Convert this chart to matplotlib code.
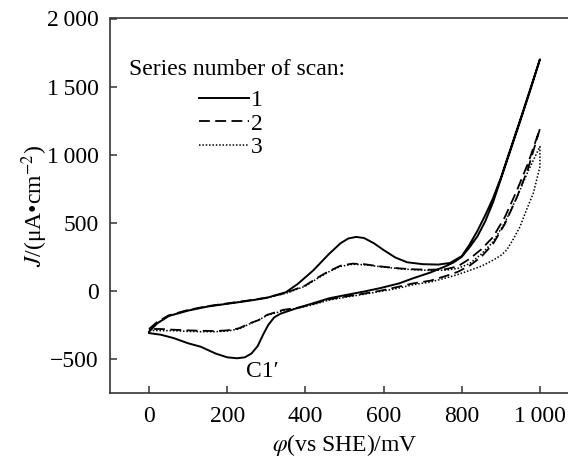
import numpy as np
import matplotlib
matplotlib.use('Agg')
import matplotlib.pyplot as plt

plt.rcParams['font.family'] = ['Liberation Serif', 'DejaVu Serif']
plt.rcParams['mathtext.fontset'] = 'stix'

# scan 1 (solid): forward (anodic) then reverse
x1f = [0, 20, 50, 100, 150, 200, 250, 300, 350, 380, 420, 460, 490, 510, 530, 550, 575, 600,
       630, 660, 700, 740, 770, 800, 820, 840, 860, 880, 900, 925, 950, 975, 1000]
y1f = [-300, -240, -185, -145, -115, -95, -75, -52, -10, 50, 150, 270, 350, 385, 396, 388, 350, 300,
       245, 210, 196, 193, 205, 255, 340, 440, 555, 680, 830, 1045, 1260, 1480, 1700]
x1r = [1000, 975, 950, 925, 900, 880, 860, 840, 820, 800, 780, 762, 720, 676, 640, 591, 550, 506,
       460, 421, 380, 336, 320, 305, 292, 278, 262, 245, 225, 200, 170, 132, 100, 63, 30, 0]
y1r = [1700, 1470, 1250, 1035, 820, 650, 510, 400, 320, 250, 210, 185, 135, 93, 55, 20, -5, -29,
       -55, -90, -125, -168, -195, -250, -320, -405, -460, -488, -495, -488, -460, -410, -385, -347, -322, -310]

# scan 2 (dashed)
x2f = [0, 20, 50, 100, 150, 200, 250, 300, 350, 400, 430, 460, 490, 520, 550, 590, 640, 680,
       720, 760, 790, 820, 850, 880, 910, 940, 970, 1000]
y2f = [-280, -230, -180, -140, -112, -92, -72, -50, -15, 40, 95, 145, 185, 200, 196, 180, 165, 158,
       155, 160, 180, 235, 305, 395, 540, 730, 940, 1190]
x2r = [1000, 970, 940, 910, 880, 850, 820, 790, 760, 720, 676, 630, 590, 550, 506, 460, 421, 380,
       344, 302, 280, 259, 230, 200, 170, 132, 100, 60, 30, 0]
y2r = [1190, 900, 680, 490, 345, 250, 185, 140, 110, 75, 55, 25, 0, -20, -40, -62, -95, -125,
       -139, -176, -215, -237, -275, -290, -295, -293, -290, -285, -280, -280]

# scan 3 (dotted)
x3f = [0, 20, 50, 100, 150, 200, 250, 300, 350, 400, 430, 460, 490, 520, 550, 590, 640, 680,
       720, 760, 790, 820, 850, 880, 910, 940, 970, 1000]
y3f = [-290, -240, -185, -142, -114, -94, -74, -52, -18, 35, 90, 140, 180, 195, 192, 178, 163, 155,
       150, 152, 165, 200, 270, 360, 500, 680, 880, 1060]
x3r = [1000, 1000, 983, 965, 949, 930, 915, 900, 881, 860, 847, 820, 790, 760, 720, 676, 630, 590,
       550, 506, 460, 421, 380, 344, 302, 280, 259, 230, 200, 170, 132, 100, 60, 30, 0]
y3r = [1060, 911, 716, 590, 471, 370, 300, 260, 227, 195, 178, 150, 120, 95, 65, 45, 15, -5,
       -25, -45, -68, -100, -128, -145, -180, -215, -240, -280, -295, -300, -300, -298, -292, -292, -290]

yticks = [-500, 0, 500, 1000, 1500, 2000]
ytick_labels = ['\u2212500', '0', '500', '1\u2009000', '1\u2009500', '2\u2009000']
xticks = [0, 200, 400, 600, 800, 1000]
xtick_labels = ['0', '200', '400', '600', '800', '1\u2009000']

fig = plt.figure(figsize=(5.68, 4.59), dpi=100)
ax = fig.add_axes([110 / 568, 66 / 459, 469 / 568, 374.5 / 459])

ax.plot(x1f + x1r, y1f + y1r, color='black', lw=1.4, label='1')
ax.plot(x2f + x2r, y2f + y2r, color='black', lw=1.3, dashes=(6, 3), label='2')
ax.plot(x3f + x3r, y3f + y3r, color='black', lw=1.1, dashes=(1, 1.2), label='3')

ax.set_xlim(-100, 1100)
ax.set_ylim(-750, 2000)
ax.set_xticks(xticks)
ax.set_xticklabels(xtick_labels)
ax.set_yticks(yticks)
ax.set_yticklabels(ytick_labels)
ax.tick_params(direction='in', length=5, width=1.1, labelsize=17, color='#333333', pad=8)
ax.tick_params(axis='x', pad=9)
for s in ['left', 'bottom', 'top']:
    ax.spines[s].set_color('#333333')
    ax.spines[s].set_linewidth(1.2)
ax.spines['right'].set_visible(False)

ax.set_xlabel(r'$\varphi$(vs SHE)/mV', fontsize=17, labelpad=4)
ax.set_ylabel(r'$J$/(μA•cm$^{-2}$)', fontsize=17, labelpad=-2)

ax.text(290, -594, 'C1\u2032', fontsize=17, ha='center', va='center')
ax.text(0.04, 0.865, 'Series number of scan:', transform=ax.transAxes,
        fontsize=17, ha='left', va='center')
ax.legend(loc='upper left', bbox_to_anchor=(0.19, 0.81), frameon=False, fontsize=17,
          handlelength=2.1, handletextpad=0.1, labelspacing=0.08, borderpad=0, borderaxespad=0)

fig.savefig('out.png', dpi=100)
